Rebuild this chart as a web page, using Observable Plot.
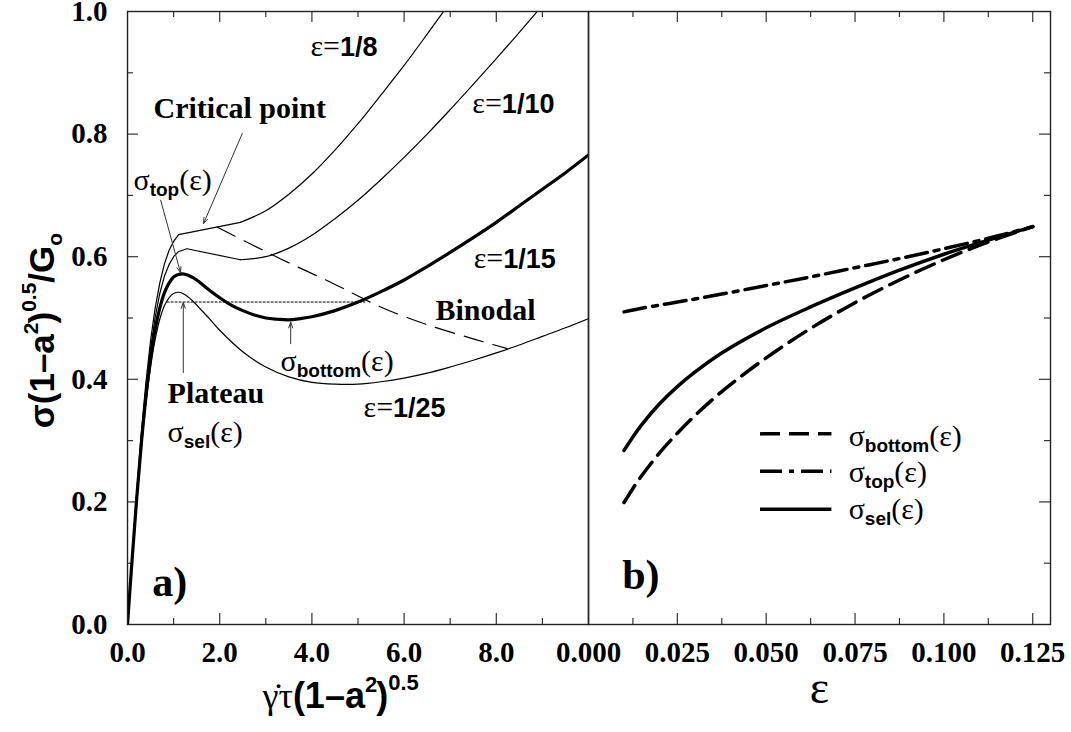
<!DOCTYPE html>
<html><head><meta charset="utf-8">
<script src="https://cdn.jsdelivr.net/npm/d3@7"></script>
<script src="https://cdn.jsdelivr.net/npm/@observablehq/plot@0.6"></script>
<style>
html,body{margin:0;padding:0;background:#fff;}
#chart{position:relative;width:1071px;height:732px;overflow:hidden;background:#fff;}
#chart svg{position:absolute;left:0;top:0;}
</style></head><body><div id="chart"></div>
<script>
// ---------- panel a) flow curves ----------
const x8  = [0,0.1,0.2,0.3,0.4,0.5,0.6,0.7,0.8,0.9,1.0,1.11,2.45,3.0,3.5,4.0,4.5,5.0,5.5,6.0,6.5,7.0];
const y8  = [0,0.112,0.217,0.313,0.395,0.463,0.516,0.557,0.588,0.610,0.625,0.636,0.656,0.675,0.702,0.735,0.774,0.817,0.864,0.912,0.963,1.015];
const x10 = [0,0.1,0.2,0.3,0.4,0.5,0.6,0.7,0.8,0.9,1.0,1.1,1.29,2.45,3.0,3.5,4.0,4.5,5.0,5.5,6.0,6.5,7.0,7.5,8.0,8.5,9.0];
const y10 = [0,0.109,0.212,0.305,0.385,0.450,0.501,0.540,0.568,0.587,0.600,0.608,0.613,0.595,0.600,0.614,0.635,0.662,0.692,0.726,0.762,0.800,0.840,0.881,0.923,0.966,1.010];
const x15 = [0,0.1,0.2,0.3,0.4,0.5,0.6,0.7,0.8,0.9,1.0,1.1,1.2,1.3,1.5,1.75,2.0,2.25,2.5,2.75,3.0,3.25,3.5,3.75,4.0,4.5,5.0,5.5,6.0,6.5,7.0,7.5,8.0,8.5,9.0,9.5,10];
const y15 = [0,0.106,0.206,0.295,0.372,0.433,0.481,0.516,0.541,0.557,0.567,0.571,0.572,0.570,0.562,0.547,0.533,0.521,0.512,0.505,0.500,0.498,0.497,0.499,0.502,0.512,0.526,0.543,0.562,0.584,0.607,0.631,0.656,0.683,0.710,0.737,0.766];
const x25 = [0,0.1,0.2,0.3,0.4,0.5,0.6,0.7,0.8,0.9,1.0,1.1,1.2,1.4,1.6,1.8,2.0,2.5,3.0,3.5,4.0,4.5,5.0,5.5,6.0,6.5,7.0,7.5,8.0,8.5,9.0,9.5,10];
const y25 = [0,0.103,0.200,0.287,0.361,0.420,0.465,0.498,0.520,0.533,0.540,0.542,0.540,0.529,0.513,0.497,0.480,0.445,0.420,0.404,0.395,0.392,0.392,0.396,0.402,0.410,0.420,0.431,0.443,0.456,0.470,0.484,0.499];
const binodalX = [1.95,3.25,4.47,5.49,6.5,7.5,8.24];
const binodalY = [0.648,0.599,0.556,0.518,0.489,0.466,0.450];
const plateauX = [0.86,5.15];
const plateauY = [0.526,0.526];

// ---------- panel b) stresses vs epsilon ----------
const epsGrid   = [0.01,0.0125,0.015,0.02,0.025,0.03,0.0375,0.05,0.0625,0.075,0.0875,0.1,0.1125,0.125];
const sigTop    = [0.510,0.513,0.516,0.521,0.526,0.531,0.539,0.553,0.567,0.582,0.597,0.613,0.630,0.649];
const sigBottom = [0.199,0.222,0.243,0.280,0.312,0.341,0.380,0.435,0.483,0.525,0.562,0.595,0.624,0.649];
const sigSel    = [0.284,0.306,0.326,0.360,0.388,0.412,0.443,0.484,0.518,0.549,0.578,0.604,0.627,0.649];

// ---------- ticks ----------
const yMajor = [0.2,0.4,0.6,0.8];
const yMinor = [0.1,0.3,0.5,0.7,0.9];
const yLabels = [0,0.2,0.4,0.6,0.8,1.0];
const xaLabels = [0,2,4,6,8];
const xaMajor = [2,4,6,8];
const xaMinor = [1,3,5,7,9];
const xbLabels = [0,0.025,0.05,0.075,0.1,0.125];
const xbMajor = [0.025,0.05,0.075,0.1,0.125];
const xbMinor = [0.0125,0.0375,0.0625,0.0875,0.1125];

// ---------- texts ----------
const annotA = [
  {x:3.97, y:0.928, label:"ε=1/8"},
  {x:7.48, y:0.834, label:"ε=1/10"},
  {x:7.51, y:0.582, label:"ε=1/15"},
  {x:5.12, y:0.339, label:"ε=1/25"},
  {x:0.564,y:0.827, label:"Critical point"},
  {x:0.13, y:0.708, label:"σtop(ε)"},
  {x:0.87, y:0.362, label:"Plateau"},
  {x:0.87, y:0.2985,label:"σsel(ε)"},
  {x:3.32, y:0.414, label:"σbottom(ε)"},
  {x:6.68, y:0.496, label:"Binodal"},
  {x:0.536,y:0.047, label:"a)"}
];
const arrowsA = [
  {x1:2.49, y1:0.801, x2:1.65, y2:0.654},
  {x1:0.72, y1:0.692, x2:1.15, y2:0.574},
  {x1:1.21, y1:0.411, x2:1.21, y2:0.525},
  {x1:3.54, y1:0.458, x2:3.54, y2:0.493}
];
const legendNames = ["σbottom(ε)","σtop(ε)","σsel(ε)"];
const legendDash = ["20,9","22,7,5,7",null];
const legendLineY = [0.311,0.250,0.188];
const legendTextY = [0.292,0.232,0.172];
const legendX1 = 0.0484, legendX2 = 0.0685, legendTextX = 0.0732;
const xLabelA = "γ̇τ(1–a2)0.5";
const yLabel = "σ(1–a2)0.5/Go";
const xLabelB = "ε";

// ---------- rich text styling ----------
const SERIF = "'Liberation Serif','Times New Roman',serif";
const SANS = "'Liberation Sans',Arial,Helvetica,sans-serif";
const fonts = {G:[SERIF,"normal"], B:[SERIF,"bold"], H:[SANS,"bold"]};
const sg = (t,s,size,shift=0,dx=0)=>({t,s,size,shift,dx});
const sigma = (sub)=>[sg("σ","G",30), sg(sub,"H",19,6), sg("(ε)","G",30)];
const epsl = (v)=>[sg("ε=","G",30), sg(v,"H",27)];
const rich = {
  "ε=1/8":epsl("1/8"), "ε=1/10":epsl("1/10"), "ε=1/15":epsl("1/15"), "ε=1/25":epsl("1/25"),
  "σtop(ε)":sigma("top"), "σsel(ε)":sigma("sel"), "σbottom(ε)":sigma("bottom"),
  "Critical point":[sg("Critical point","B",30)],
  "Plateau":[sg("Plateau","B",30)],
  "Binodal":[sg("Binodal","B",30)],
  "a)":[sg("a)","B",42)], "b)":[sg("b)","B",42)],
  [xLabelA]:[sg("γ̇τ","G",36), sg("(1–a","H",36), sg("2","H",22,-16), sg(")","H",36,0,-1), sg("0.5","H",22,-18)],
  [yLabel]:[sg("σ(1–a","H",35), sg("2","H",21,-16), sg(")","H",35,0,-1), sg("0.5","H",21,-18), sg("/G","H",35), sg("o","H",21,8)],
  [xLabelB]:[sg("ε","G",46)]
};
function richify(svg){
  d3.select(svg).selectAll("text").each(function(){
    const segs = rich[this.textContent];
    const el = d3.select(this);
    if (!segs) {
      el.style("font-family", SERIF).style("font-weight", "bold").style("font-size", "29px").style("fill", "#000");
      return;
    }
    el.text(null).attr("y", null);
    let cur = 0;
    for (const s of segs){
      const ts = el.append("tspan").text(s.t)
        .attr("font-family", fonts[s.s][0]).attr("font-weight", fonts[s.s][1]).attr("font-size", s.size);
      if (s.shift - cur) ts.attr("dy", s.shift - cur);
      if (s.dx) ts.attr("dx", s.dx);
      cur = s.shift;
    }
  });
}

const W = 1071, H = 732, MT = 11, MB = 108;
const tickStroke = "#333";
const pairs = (xs, ys) => xs.map((x,i)=>[x, ys[i]]);
const upTo = (xs, ys, lim) => pairs(xs, ys).filter(d => d[0] <= lim);
const from = (xs, ys, lim) => pairs(xs, ys).filter(d => d[0] >= lim);

// ---------- left panel ----------
const left = Plot.plot({
  width: W, height: H, marginLeft: 127, marginRight: W-588, marginTop: MT, marginBottom: MB,
  x: {domain:[0,10]}, y: {domain:[0,1]},
  marks: [
    Plot.axisX({ticks: xaLabels, tickFormat: d=>d.toFixed(1), tickSize:0, tickPadding:17, label:null}),
    Plot.axisY({ticks: yLabels, tickFormat: d=>d.toFixed(1), tickSize:0, tickPadding:20, label:null}),
    Plot.ruleX(xaMajor, {x:d=>d, y1:0, y2:0, insetBottom:11, stroke:tickStroke, strokeWidth:1.2}),
    Plot.ruleX(xaMinor, {x:d=>d, y1:0, y2:0, insetBottom:6, stroke:tickStroke, strokeWidth:1.2}),
    Plot.ruleX(xaMajor, {x:d=>d, y1:1, y2:1, insetTop:11, stroke:tickStroke, strokeWidth:1.2}),
    Plot.ruleX(xaMinor, {x:d=>d, y1:1, y2:1, insetTop:6, stroke:tickStroke, strokeWidth:1.2}),
    Plot.ruleY(yMajor, {y:d=>d, x1:0, x2:0, insetLeft:11, stroke:tickStroke, strokeWidth:1.2}),
    Plot.ruleY(yMinor, {y:d=>d, x1:0, x2:0, insetLeft:6, stroke:tickStroke, strokeWidth:1.2}),
    Plot.line(pairs(plateauX, plateauY), {stroke:"#000", strokeWidth:1.1, strokeDasharray:"2,2"}),
    Plot.line(pairs(binodalX, binodalY), {stroke:"#000", strokeWidth:1.2, strokeDasharray:"20,10", curve:"catmull-rom"}),
    Plot.line(upTo(x8, y8, 2.45), {stroke:"#000", strokeWidth:1.2}),
    Plot.line(from(x8, y8, 2.45), {stroke:"#000", strokeWidth:1.2, curve:"catmull-rom", clip:true}),
    Plot.line(upTo(x10, y10, 2.45), {stroke:"#000", strokeWidth:1.2}),
    Plot.line(from(x10, y10, 2.45), {stroke:"#000", strokeWidth:1.2, curve:"catmull-rom", clip:true}),
    Plot.line(pairs(x25, y25), {stroke:"#000", strokeWidth:1.2, curve:"catmull-rom", clip:true}),
    Plot.line(pairs(x15, y15), {stroke:"#000", strokeWidth:3.2, curve:"catmull-rom", clip:true}),
    Plot.arrow(arrowsA, {x1:"x1", y1:"y1", x2:"x2", y2:"y2", stroke:"#333", strokeWidth:1, headLength:9, headAngle:40}),
    Plot.text(annotA, {x:"x", y:"y", text:"label", textAnchor:"start"}),
    Plot.text([xLabelA], {text:d=>d, frameAnchor:"bottom", dx:-95.5, dy:83, textAnchor:"start"}),
    Plot.text([yLabel], {text:d=>d, frameAnchor:"left", dx:-74, dy:12.5, rotate:-90, textAnchor:"middle"}),
    Plot.frame({stroke:"#222", strokeWidth:1.4})
  ]
});

// ---------- right panel ----------
const legendRows = legendNames.map((n,i)=>({name:n, dash:legendDash[i], ly:legendLineY[i], ty:legendTextY[i]}));
const right = Plot.plot({
  width: W, height: H, marginLeft: 588, marginRight: 21, marginTop: MT, marginBottom: MB,
  style: {background:"transparent"},
  x: {domain:[0,0.13]}, y: {domain:[0,1], axis:null},
  marks: [
    Plot.axisX({ticks: xbLabels, tickFormat: d=>d.toFixed(3), tickSize:0, tickPadding:17, label:null}),
    Plot.ruleX(xbMajor, {x:d=>d, y1:0, y2:0, insetBottom:11, stroke:tickStroke, strokeWidth:1.2}),
    Plot.ruleX(xbMinor, {x:d=>d, y1:0, y2:0, insetBottom:6, stroke:tickStroke, strokeWidth:1.2}),
    Plot.ruleX(xbMajor, {x:d=>d, y1:1, y2:1, insetTop:11, stroke:tickStroke, strokeWidth:1.2}),
    Plot.ruleX(xbMinor, {x:d=>d, y1:1, y2:1, insetTop:6, stroke:tickStroke, strokeWidth:1.2}),
    Plot.ruleY(yMajor, {y:d=>d, x1:0.13, x2:0.13, insetRight:11, stroke:tickStroke, strokeWidth:1.2}),
    Plot.ruleY(yMinor, {y:d=>d, x1:0.13, x2:0.13, insetRight:6, stroke:tickStroke, strokeWidth:1.2}),
    Plot.line(pairs(epsGrid, sigBottom), {stroke:"#000", strokeWidth:3.5, strokeDasharray:legendDash[0], curve:"catmull-rom"}),
    Plot.line(pairs(epsGrid, sigTop), {stroke:"#000", strokeWidth:3.5, strokeDasharray:legendDash[1], curve:"catmull-rom"}),
    Plot.line(pairs(epsGrid, sigSel), {stroke:"#000", strokeWidth:3.5, curve:"catmull-rom"}),
    ...legendRows.map(r => Plot.ruleY([r], {y:"ly", x1:legendX1, x2:legendX2, stroke:"#000", strokeWidth:3.5, strokeDasharray:r.dash})),
    Plot.text(legendRows, {x:legendTextX, y:"ty", text:"name", textAnchor:"start"}),
    Plot.text([{t:"b)"}], {x:0.0095, y:0.058, text:"t", textAnchor:"start"}),
    Plot.text([xLabelB], {text:d=>d, frameAnchor:"bottom", dy:78, textAnchor:"middle"}),
    Plot.frame({stroke:"#222", strokeWidth:1.4})
  ]
});

const chart = document.getElementById("chart");
chart.appendChild(left);
chart.appendChild(right);
richify(left); richify(right);
</script>
</body></html>
